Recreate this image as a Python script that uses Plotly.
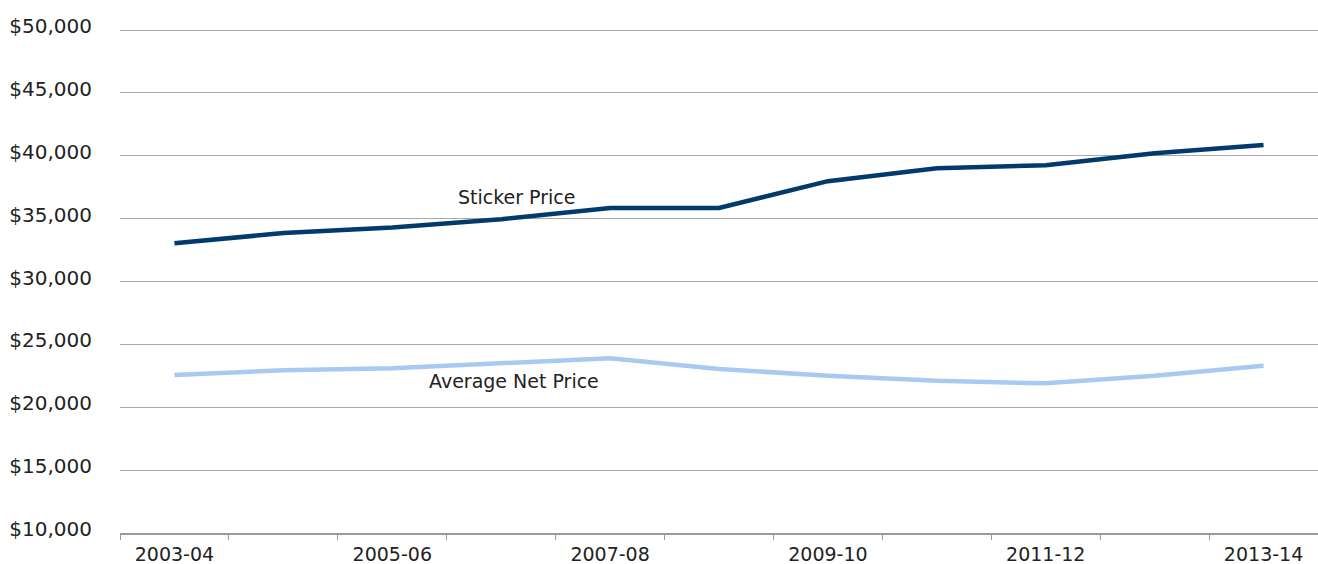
import plotly.graph_objects as go

categories = ["2003-04", "2004-05", "2005-06", "2006-07", "2007-08", "2008-09",
              "2009-10", "2010-11", "2011-12", "2012-13", "2013-14"]
sticker_price = [33050, 33850, 34300, 34950, 35850, 35850, 37980, 39000, 39250, 40200, 40850]
net_price = [22560, 22950, 23100, 23500, 23900, 23050, 22500, 22100, 21900, 22500, 23300]
y_ticks = [10000, 15000, 20000, 25000, 30000, 35000, 40000, 45000, 50000]

x_idx = list(range(len(categories)))
font_family = "'DejaVu Sans', sans-serif"

fig = go.Figure()
fig.add_trace(go.Scatter(x=x_idx, y=sticker_price, mode="lines", name="Sticker Price",
                         line=dict(color="#023a6c", width=4.5)))
fig.add_trace(go.Scatter(x=x_idx, y=net_price, mode="lines", name="Average Net Price",
                         line=dict(color="#a7c9f2", width=4.5)))

fig.add_annotation(x=3.14, y=36710, text="Sticker Price", showarrow=False,
                   font=dict(size=19, color="#222", family=font_family))
fig.add_annotation(x=3.12, y=22050, text="Average Net Price", showarrow=False,
                   font=dict(size=19, color="#222", family=font_family))

fig.update_layout(
    width=1318, height=564,
    margin=dict(l=120, r=0, t=29, b=31),
    paper_bgcolor="white", plot_bgcolor="white",
    showlegend=False,
    font=dict(family=font_family, color="#222", size=19),
    xaxis=dict(
        range=[-0.5, len(categories) - 0.5],
        tickvals=x_idx[::2], ticktext=categories[::2],
        ticks="", showgrid=False, zeroline=False,
        showline=True, linecolor="#9a9a9a", linewidth=1.5,
        minor=dict(ticks="outside", tick0=-0.5, dtick=1, ticklen=5,
                   tickcolor="#9a9a9a", tickwidth=1, showgrid=False),
        tickfont=dict(size=19, color="#222"),
        ticklabelstandoff=3,
        automargin=False,
        fixedrange=True,
    ),
    yaxis=dict(
        range=[10000, 50080],
        tickvals=y_ticks, tickformat="$,d",
        ticks="", showgrid=True, gridcolor="#a8a8a8", gridwidth=1,
        zeroline=False, showline=False,
        ticklabelstandoff=27,
        ticklabelshift=-4,
        tickfont=dict(size=20, color="#222"),
        automargin=False,
        fixedrange=True,
    ),
)

fig.write_html("out.html", config={"displayModeBar": False},
               post_script="document.body.style.margin='0';document.body.style.overflow='hidden';")
